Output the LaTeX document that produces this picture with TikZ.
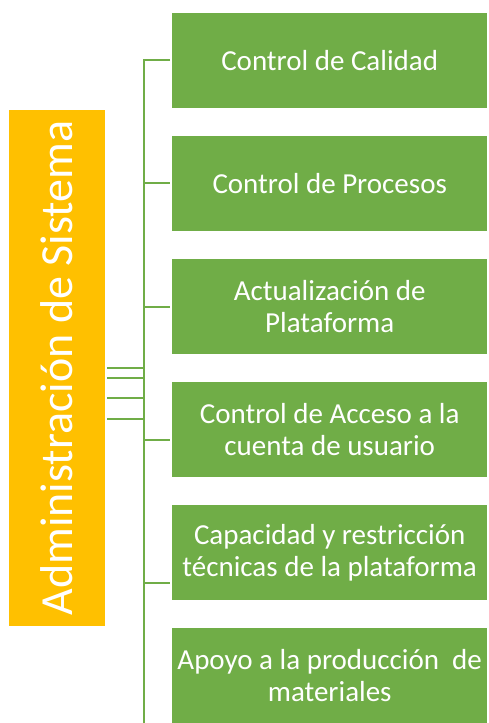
\documentclass[tikz,border=0pt]{standalone}
\usepackage{fontspec}
\setmainfont{Carlito}
\definecolor{sagreen}{HTML}{70AD47}
\definecolor{saorange}{HTML}{FFC000}
\begin{document}
\begin{tikzpicture}[x=1pt,y=-1pt,
  box/.style={fill=sagreen, draw=none, minimum width=315pt, minimum height=95pt,
    inner sep=0pt, text=white, align=center, anchor=north west,
    font=\fontsize{29}{32}\selectfont},
  conn/.style={draw=sagreen, line width=2.3pt},
]
\useasboundingbox (0,0) rectangle (488,723);
\fill[white] (0,0) rectangle (488,723);

% main box
\node[fill=saorange, minimum width=96pt, minimum height=516pt, inner sep=0pt] (admin) at (57,368) {};
\node[rotate=90, text=white, inner sep=0pt, font=\fontsize{46}{50}\selectfont] (admintext) at (admin.center) {Administración de Sistema};

% branch boxes
\node[box] (b1) at (172,13) {Control de Calidad};
\node[box] (b2) at (172,136) {Control de Procesos};
\node[box] (b3) at (172,259) {Actualización de\\Plataforma};
\node[box] (b4) at (172,382) {Control de Acceso a la\\cuenta de usuario};
\node[box] (b5) at (172,505) {Capacidad y restricción\\técnicas de la plataforma};
\node[box] (b6) at (172,628) {Apoyo a la producción\ \ de\\materiales};

% trunk coordinates
\coordinate (top) at (144,60);
\coordinate (bot) at (144,730);
\coordinate (t2) at (144,183);
\coordinate (t3) at (144,307);
\coordinate (t4) at (144,440);
\coordinate (t5) at (144,583);
\coordinate (c1) at (144,368);
\coordinate (c2) at (144,378);
\coordinate (c3) at (144,398);
\coordinate (c4) at (144,419);

% trunk and branches
\draw[conn, shorten <=2pt] (top -| b1.west) -- (top) -- (bot);
\draw[conn, shorten >=2pt] (t2) -- (t2 -| b2.west);
\draw[conn, shorten >=2pt] (t3) -- (t3 -| b3.west);
\draw[conn, shorten >=2pt] (t4) -- (t4 -| b4.west);
\draw[conn, shorten >=2pt] (t5) -- (t5 -| b5.west);

% links from main box
\draw[conn, shorten <=2pt] (admin.east |- c1) -- (c1);
\draw[conn, shorten <=2pt] (admin.east |- c2) -- (c2);
\draw[conn, shorten <=2pt] (admin.east |- c3) -- (c3);
\draw[conn, shorten <=2pt] (admin.east |- c4) -- (c4);
\end{tikzpicture}
\end{document}
